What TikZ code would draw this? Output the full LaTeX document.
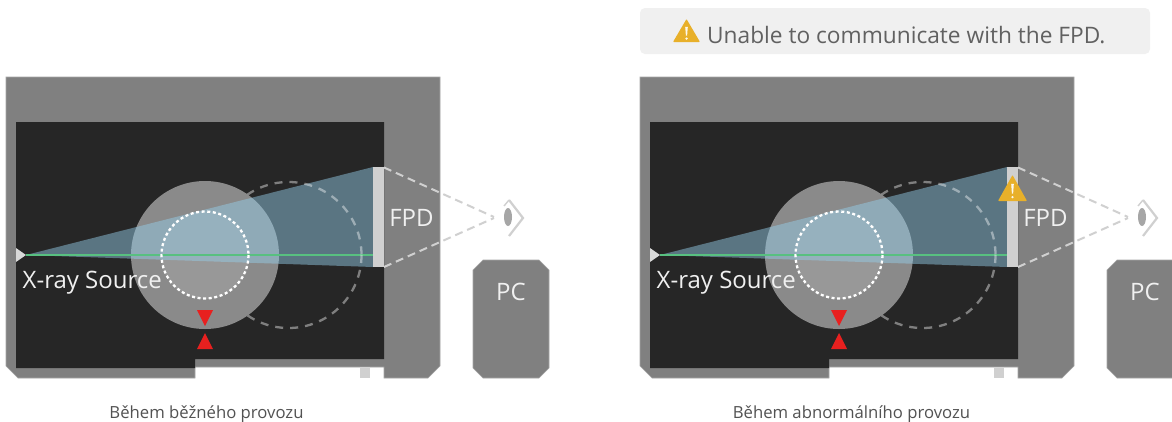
\documentclass[tikz,border=0pt]{standalone}
\usepackage{fontspec}
\setmainfont{Open Sans}
\definecolor{frameg}{HTML}{808080}
\definecolor{frameedge}{HTML}{A6A6A6}
\definecolor{darkbg}{HTML}{262626}
\definecolor{circg}{HTML}{8A8A8A}
\definecolor{beamc}{RGB}{149,206,234}
\definecolor{greenl}{HTML}{58C080}
\definecolor{palel}{HTML}{D0D0D0}
\definecolor{redm}{HTML}{E8201F}
\definecolor{warn}{HTML}{E8B02A}
\tikzset{
  framefill/.style={fill=frameg,draw=frameedge,line width=0.6pt},
  lbl/.style={text=white!94!black,inner sep=0pt,anchor=base,font=\fontsize{24}{28}\selectfont},
  gazeline/.style={draw=palel,line width=2pt,dash pattern=on 8pt off 5pt},
  captionlbl/.style={text=black!68,font=\fontsize{16.7}{20}\selectfont,inner sep=0pt,anchor=base}
}
\newcommand{\warnsign}[4]{% x y width height
  \fill[warn,rounded corners=0.8pt] (#1,#2) -- ++(#3/2,#4) -- ++(-#3,0) -- cycle;
  \fill[white!92!warn] (#1-1.3,#2+#4*0.34) -- (#1+1.3,#2+#4*0.34) -- (#1+0.6,#2+#4*0.72) -- (#1-0.6,#2+#4*0.72) -- cycle;
  \fill[white!92!warn] (#1,#2+#4*0.85) circle (1.3pt);
}
\newcommand{\panel}[1]{%
\begin{scope}[shift={(#1,0)}]
  % housing
  \path[framefill] (6,77) -- (440,77) -- (440,366) -- (428,378) -- (384,378) -- (384,367) -- (195,367) -- (195,378) -- (18,378) -- (6,366) -- cycle;
  \fill[palel] (360,367.5) rectangle (370,378);
  \fill[darkbg] (16,122) -- (384,122) -- (384,359) -- (195,359) -- (195,368) -- (16,368) -- cycle;
  % object
  \fill[circg] (205,255) circle (74);
  \fill[white,opacity=0.12] (205,255) circle (44);
  % beam
  \fill[beamc,opacity=0.47] (26,255) -- (373,167) -- (373,267) -- cycle;
  \draw[greenl,line width=2.4pt] (26,255) -- (373,255);
  % rotation path, hidden by the object
  \begin{scope}[even odd rule]
    \clip (0,0) rectangle (600,421) (205,255) circle (74);
    \draw[draw=white,opacity=0.41,line width=2.3pt,dash pattern=on 8pt off 7pt] (288.5,255) circle (73);
  \end{scope}
  \draw[white,line width=2.3pt,dash pattern=on 3pt off 2.6pt] (205,255) circle (43.5);
  \fill[white!85!black] (16,248) -- (26,255) -- (16,262) -- cycle;
  % detector
  \fill[palel] (373,167) rectangle (384,267);
  \node[lbl,anchor=base west] at (22.5,288) {X-ray Source};
  \node[lbl] at (411.5,226) {FPD};
  % gaze
  \draw[gazeline] (384,167.5) -- (494,217);
  \draw[gazeline] (384,267) -- (494,218);
  % eye
  \draw[palel,line width=2.2pt] (509,200) -- (523,218) -- (509,236);
  \draw[palel,line width=1.4pt] (509,200) -- (504,206);
  \fill[black!35] (508,217) ellipse (4 and 9);
  % PC
  \path[framefill] (483,260) -- (539,260) -- (549,270) -- (549,368) -- (539,378) -- (483,378) -- (473,368) -- (473,270) -- cycle;
  \node[lbl] at (511,300) {PC};
  % markers
  \fill[redm] (197,310) -- (213,310) -- (205,326) -- cycle;
  \fill[redm] (197,349) -- (213,349) -- (205,333) -- cycle;
\end{scope}}
\begin{document}
\begin{tikzpicture}[x=1pt,y=-1pt]
\clip (0,0) rectangle (1172,421);
\fill[white] (0,0) rectangle (1172,421);
\panel{0}
\panel{634}
% banner
\fill[black!6,rounded corners=5pt] (640,8) rectangle (1150,54);
\warnsign{686.5}{19}{27}{23}
\node[inner sep=0pt,anchor=base west,text=black!62,font=\fontsize{22.7}{27}\selectfont] (msg) at (707,43) {Unable to communicate with the FPD.};
% warning on detector
\warnsign{1012.5}{175}{29}{26}
\node[captionlbl] (cap1) at (206.5,418) {Během běžného provozu};
\node[captionlbl] (cap2) at (851.5,418) {Během abnormálního provozu};
\end{tikzpicture}
\end{document}
